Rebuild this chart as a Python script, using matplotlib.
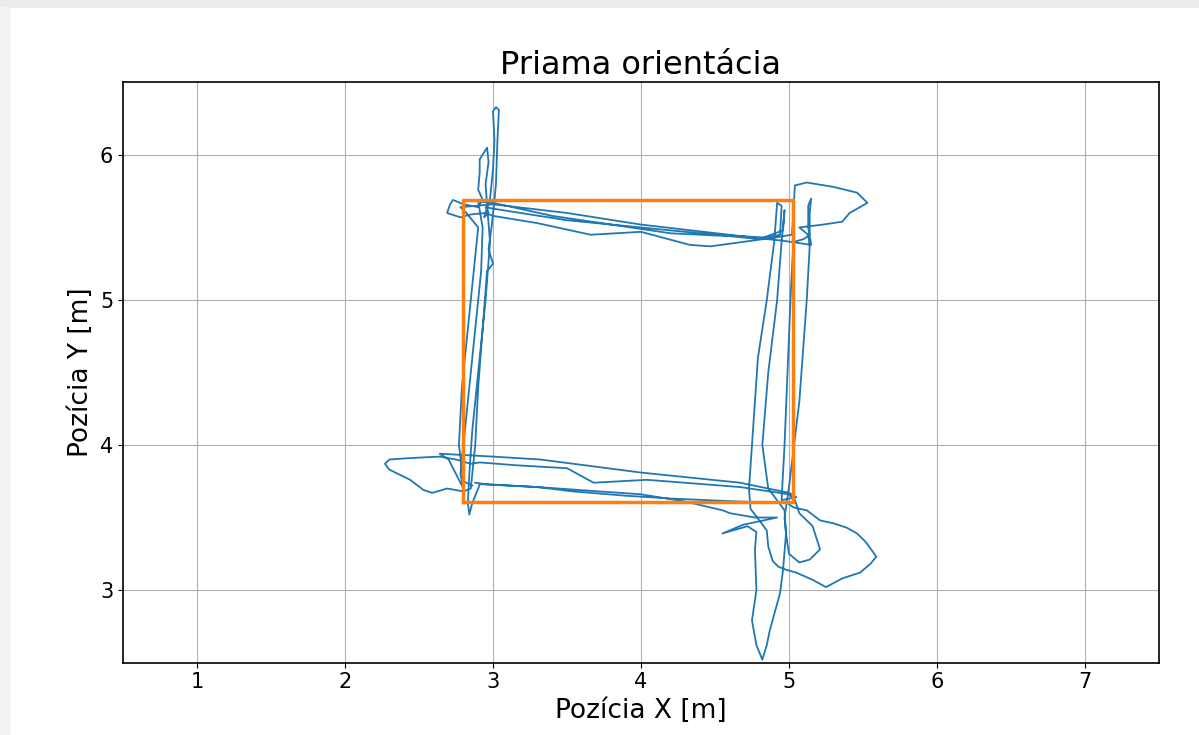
import matplotlib
matplotlib.use('Agg')
import matplotlib.pyplot as plt
from matplotlib.patches import Rectangle

# reference square (orange)
rect_x = [2.80, 5.03, 5.03, 2.80, 2.80]
rect_y = [3.61, 3.61, 5.69, 5.69, 3.61]

lap1_x = [2.88, 2.95, 3.30, 3.54, 3.90, 4.22, 4.67, 4.99, 5.03,
          5.07, 5.12, 5.21, 5.30, 5.39, 5.46, 5.52, 5.59, 5.55, 5.48, 5.36, 5.25, 5.16, 5.05, 4.98,
          4.93, 4.89, 4.86, 4.85, 4.80, 4.74,
          4.73, 4.75, 4.79, 4.85, 4.90, 4.92, 4.95, 4.94,
          4.85, 4.50, 4.00, 3.50, 3.00, 2.95, 2.97, 2.94,
          2.98, 3.00, 3.01, 3.00, 3.02, 3.04, 3.03, 3.02, 3.01,
          2.99, 2.97, 3.00, 2.96, 2.93, 2.90, 2.88, 2.86, 2.85,
          2.80, 2.69, 2.59, 2.53, 2.44, 2.36, 2.30, 2.27, 2.30, 2.44, 2.64, 2.75, 2.85]
lap1_y = [3.74, 3.73, 3.71, 3.68, 3.65, 3.63, 3.61, 3.60, 3.57,
          3.56, 3.55, 3.48, 3.46, 3.43, 3.39, 3.33, 3.23, 3.18, 3.12, 3.08, 3.02, 3.07, 3.12, 3.14,
          3.16, 3.20, 3.30, 3.41, 3.48, 3.56,
          3.70, 4.00, 4.60, 5.00, 5.40, 5.67, 5.65, 5.45,
          5.43, 5.45, 5.50, 5.55, 5.63, 5.64, 5.60, 5.57,
          5.70, 5.90, 6.10, 6.30, 6.33, 6.31, 6.10, 5.80, 5.69,
          5.50, 5.35, 5.25, 5.20, 4.80, 4.40, 4.00, 3.80, 3.70,
          3.68, 3.70, 3.67, 3.69, 3.76, 3.80, 3.83, 3.87, 3.90, 3.91, 3.92, 3.90, 3.87]

lap2_x = [2.91, 3.16, 3.50, 3.68, 4.04, 4.67, 5.00, 5.04,
          5.07, 5.16, 5.21, 5.14, 5.07, 5.00, 4.98, 4.97,
          5.00, 5.07, 5.12, 5.14, 5.13,
          5.07, 5.23, 5.36, 5.41, 5.53, 5.46, 5.30, 5.12, 5.04, 5.03, 5.02,
          4.90, 4.47, 4.33, 4.00, 3.66, 3.30, 3.00, 2.95,
          2.85, 2.78, 2.69, 2.71, 2.73, 2.80, 2.90,
          2.93, 2.90, 2.91, 2.91, 2.96, 2.97, 2.95, 2.96,
          2.98, 2.95, 2.90, 2.86, 2.84, 2.83, 2.84, 2.86, 2.90]
lap2_y = [3.88, 3.86, 3.84, 3.74, 3.76, 3.71, 3.66, 3.62,
          3.53, 3.44, 3.28, 3.21, 3.19, 3.25, 3.39, 3.50,
          3.71, 4.30, 5.00, 5.37, 5.45,
          5.50, 5.52, 5.54, 5.60, 5.67, 5.74, 5.78, 5.81, 5.79, 5.60, 5.45,
          5.43, 5.37, 5.38, 5.47, 5.45, 5.53, 5.58, 5.60,
          5.59, 5.57, 5.60, 5.66, 5.69, 5.66, 5.64,
          5.69, 5.76, 5.88, 5.97, 6.05, 5.95, 5.80, 5.65,
          5.40, 5.00, 4.50, 4.10, 3.80, 3.60, 3.52, 3.60, 3.70]

lap3_x = [2.91, 3.30, 4.00, 4.30, 4.55, 4.60, 4.77, 4.92, 4.69, 4.55, 4.72, 4.78,
          4.77, 4.78, 4.75, 4.78, 4.82, 4.85, 4.87, 4.94, 4.96, 4.98, 4.97,
          4.86, 4.82, 4.86, 4.92, 4.95, 4.97,
          4.96, 4.80, 4.60, 4.20, 3.80, 3.40, 3.00, 2.90,
          2.93, 2.92, 2.88, 2.84, 2.80, 2.78, 2.80]
lap3_y = [3.73, 3.71, 3.66, 3.61, 3.55, 3.53, 3.50, 3.50, 3.45, 3.39, 3.44, 3.40,
          3.28, 3.00, 2.79, 2.62, 2.52, 2.62, 2.72, 2.98, 3.14, 3.39, 3.55,
          3.70, 4.00, 4.50, 5.00, 5.40, 5.62,
          5.48, 5.42, 5.44, 5.46, 5.52, 5.58, 5.67, 5.68,
          5.50, 5.20, 4.80, 4.40, 4.00, 3.80, 3.70]

lap4_x = [2.70, 2.64, 3.00, 3.32, 4.00, 4.67, 5.00, 5.05,
          4.95, 4.97, 4.99, 5.01, 5.03, 5.10,
          5.14, 5.14, 5.15, 5.13, 5.13, 5.15,
          4.95, 4.85, 4.00, 3.50, 3.00, 2.78, 2.82,
          2.90, 2.85, 2.79, 2.77, 2.80, 2.86]
lap4_y = [3.90, 3.94, 3.92, 3.90, 3.81, 3.74, 3.67, 3.64,
          3.62, 4.00, 4.50, 5.00, 5.40, 5.42,
          5.45, 5.60, 5.70, 5.65, 5.50, 5.38,
          5.41, 5.42, 5.52, 5.60, 5.66, 5.64, 5.60,
          5.50, 5.00, 4.40, 4.00, 3.75, 3.72]

path_x = lap1_x + lap2_x + lap3_x + lap4_x
path_y = lap1_y + lap2_y + lap3_y + lap4_y

x_ticks = [1, 2, 3, 4, 5, 6, 7]
y_ticks = [3, 4, 5, 6]

fig = plt.figure(figsize=(11.99, 7.35), dpi=100)
# light gray frame of the notebook screenshot
fig.patches.append(Rectangle((0, 1 - 7 / 735), 1, 7 / 735, transform=fig.transFigure,
                             color='#ececec', zorder=0))
fig.patches.append(Rectangle((0, 0), 9 / 1199, 1 - 7 / 735, transform=fig.transFigure,
                             color='#f3f3f3', zorder=0))

ax = fig.add_axes([0.1026, 0.0986, 0.8640, 0.7892])
ax.plot(path_x, path_y, color='#1f77b4', linewidth=1.3)
ax.plot(rect_x, rect_y, color='#ff7f0e', linewidth=2.5)

ax.set_xlim(0.5, 7.5)
ax.set_ylim(2.5, 6.5)
ax.set_xticks(x_ticks)
ax.set_yticks(y_ticks)
ax.set_title('Priama orientácia', fontsize=23)
ax.set_xlabel('Pozícia X [m]', fontsize=19)
ax.set_ylabel('Pozícia Y [m]', fontsize=19)
ax.tick_params(labelsize=15)
for s in ax.spines.values():
    s.set_linewidth(1.2)
ax.grid(True)

fig.savefig('out.png', dpi=100)
